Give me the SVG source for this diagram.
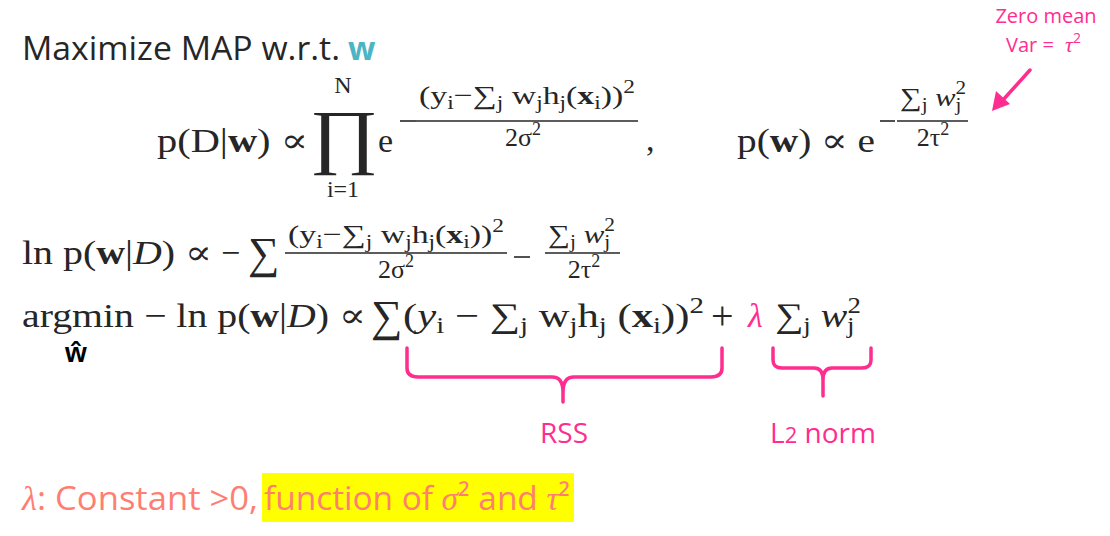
<svg xmlns="http://www.w3.org/2000/svg" width="1110" height="536" viewBox="0 0 1110 536">
<style>
.m{font-family:"Liberation Serif","DejaVu Serif",serif;fill:#262626}
.b{font-weight:bold}
.it{font-style:italic}
.sans{font-family:"Open Sans","Noto Sans","Liberation Sans",sans-serif}
.pk{fill:#ff2d8f}
.sal{fill:#ff7e72}
.bar{stroke:#262626;stroke-width:1.6}
.brace{fill:none;stroke:#ff2d8f;stroke-width:3.5;stroke-linecap:round;stroke-linejoin:round}
</style>
<rect width="1110" height="536" fill="#ffffff"/>

<g id="title">
<text class="sans" x="22" y="60" font-size="32" fill="#262626" textLength="318" lengthAdjust="spacingAndGlyphs">Maximize MAP w.r.t.</text>
<text class="sans b" x="348" y="60" font-size="32" fill="#4bb4c5">w</text>
</g>

<g id="annotation">
<text class="sans pk" x="1046" y="23" font-size="20" text-anchor="middle">Zero mean</text>
<text class="sans pk" x="1006" y="52" font-size="20">Var = <tspan class="m it pk" font-size="22" dx="6">τ</tspan><tspan class="pk" font-size="14" dy="-9">2</tspan></text>
</g>

<g id="connectors">
<line x1="1030" y1="70" x2="1003" y2="100" stroke="#ff2d8f" stroke-width="3.5" stroke-linecap="round"/>
<polygon points="992,111 996,91 1010,104" fill="#ff2d8f"/>
</g>

<g id="eq1">
<text class="m" x="157" y="152" font-size="34" textLength="151" lengthAdjust="spacingAndGlyphs">p(D|<tspan class="b">w</tspan>) ∝</text>
<text class="m" font-size="80" text-anchor="middle" transform="translate(344,160) scale(1.05,0.9)">∏</text>
<text class="m" x="343" y="93" font-size="24" text-anchor="middle">N</text>
<text class="m" x="343" y="197" font-size="24" text-anchor="middle">i=1</text>
<text class="m" x="378" y="152" font-size="34">e</text>
<line class="bar" x1="400" y1="121" x2="416" y2="121" stroke-width="2.5"/>
<text class="m" x="419" y="104" font-size="26" textLength="216" lengthAdjust="spacingAndGlyphs">(y<tspan dy="5" font-size="18">i</tspan><tspan dy="-5">−∑</tspan><tspan dy="5" font-size="18">j</tspan><tspan dy="-5"> w</tspan><tspan dy="5" font-size="18">j</tspan><tspan dy="-5">h</tspan><tspan dy="5" font-size="18">j</tspan><tspan dy="-5">(</tspan><tspan class="b">x</tspan><tspan dy="5" font-size="18">i</tspan><tspan dy="-5">))</tspan><tspan dy="-11" font-size="18">2</tspan></text>
<line class="bar" x1="416" y1="121" x2="638" y2="121"/>
<text class="m" x="523" y="146" font-size="26" text-anchor="middle">2σ<tspan dy="-11" font-size="18">2</tspan></text>
<text class="m" x="646" y="151" font-size="34">,</text>

<text class="m" x="737" y="152" font-size="34" textLength="138" lengthAdjust="spacingAndGlyphs">p(<tspan class="b">w</tspan>) ∝ e</text>
<line class="bar" x1="880" y1="121" x2="895" y2="121" stroke-width="2.5"/>
<text class="m" x="900" y="106" font-size="26" textLength="66" lengthAdjust="spacingAndGlyphs">∑<tspan dy="5" font-size="18">j</tspan><tspan dy="-5" class="it"> w</tspan><tspan dy="5" font-size="18">j</tspan><tspan dy="-17" dx="-5" font-size="18">2</tspan></text>
<line class="bar" x1="897" y1="121" x2="968" y2="121"/>
<text class="m" x="933" y="146" font-size="26" text-anchor="middle">2τ<tspan dy="-11" font-size="18">2</tspan></text>
</g>

<g id="eq2">
<text class="m" x="22" y="264" font-size="34" textLength="190" lengthAdjust="spacingAndGlyphs">ln p(<tspan class="b">w</tspan>|<tspan class="it">D</tspan>) ∝</text>
<text class="m" x="221" y="264" font-size="34">−</text>
<text class="m" x="248" y="268" font-size="44">∑</text>
<text class="m" x="288" y="243" font-size="26" textLength="216" lengthAdjust="spacingAndGlyphs">(y<tspan dy="5" font-size="18">i</tspan><tspan dy="-5">−∑</tspan><tspan dy="5" font-size="18">j</tspan><tspan dy="-5"> w</tspan><tspan dy="5" font-size="18">j</tspan><tspan dy="-5">h</tspan><tspan dy="5" font-size="18">j</tspan><tspan dy="-5">(</tspan><tspan class="b">x</tspan><tspan dy="5" font-size="18">i</tspan><tspan dy="-5">))</tspan><tspan dy="-11" font-size="18">2</tspan></text>
<line class="bar" x1="285" y1="253" x2="507" y2="253"/>
<text class="m" x="396" y="278" font-size="26" text-anchor="middle">2σ<tspan dy="-11" font-size="18">2</tspan></text>
<line class="bar" x1="514" y1="257" x2="530" y2="257" stroke-width="2.5"/>
<text class="m" x="548" y="243" font-size="26" textLength="67" lengthAdjust="spacingAndGlyphs">∑<tspan dy="5" font-size="18">j</tspan><tspan dy="-5" class="it"> w</tspan><tspan dy="5" font-size="18">j</tspan><tspan dy="-17" dx="-5" font-size="18">2</tspan></text>
<line class="bar" x1="545" y1="253" x2="620" y2="253"/>
<text class="m" x="584" y="278" font-size="26" text-anchor="middle">2τ<tspan dy="-11" font-size="18">2</tspan></text>
</g>

<g id="eq3">
<text class="m" x="22" y="327" font-size="34" textLength="344" lengthAdjust="spacingAndGlyphs">argmin − ln p(<tspan class="b">w</tspan>|<tspan class="it">D</tspan>) ∝</text>
<text class="m" x="371" y="331" font-size="44">∑</text>
<text class="m" x="403" y="327" font-size="34" textLength="301" lengthAdjust="spacingAndGlyphs">(<tspan class="it">y</tspan><tspan dy="6" font-size="23">i</tspan><tspan dy="-6"> − ∑</tspan><tspan dy="6" font-size="23">j</tspan><tspan dy="-6"> w</tspan><tspan dy="6" font-size="23">j</tspan><tspan dy="-6">h</tspan><tspan dy="6" font-size="23">j</tspan><tspan dy="-6"> (</tspan><tspan class="b">x</tspan><tspan dy="6" font-size="23">i</tspan><tspan dy="-6">))</tspan><tspan dy="-14" font-size="23">2</tspan></text>
<text class="m" x="711" y="329" font-size="40">+</text>
<text class="m it pk" x="748" y="327" font-size="34">λ</text>
<text class="m" x="775" y="327" font-size="34" textLength="86" lengthAdjust="spacingAndGlyphs">∑<tspan dy="6" font-size="23">j</tspan><tspan dy="-6" class="it"> w</tspan><tspan dy="6" font-size="23">j</tspan><tspan dy="-20" dx="-6" font-size="23">2</tspan></text>
<text x="65" y="362" font-size="28" font-family="Liberation Sans, Arial, sans-serif" font-weight="bold" fill="#000">ŵ</text>
</g>

<g id="braces">
<path class="brace" d="M407,348 L407,368 Q407,377 418,377 L552,377 Q563,377 563,392 L563,402 M563,392 Q563,377 574,377 L711,377 Q722,377 722,368 L722,348"/>
<path class="brace" d="M773,348 L773,360 Q773,368 782,368 L814,368 Q823,368 823,380 L823,396 M823,380 Q823,368 832,368 L862,368 Q871,368 871,360 L871,348"/>
</g>

<g id="labels">
<text class="sans pk" x="564" y="443" font-size="28" text-anchor="middle">RSS</text>
<text class="sans pk" x="823" y="443" font-size="28" text-anchor="middle">L<tspan font-size="22">2</tspan> norm</text>
</g>

<g id="note">
<rect x="262" y="473" width="312" height="49" fill="#ffff00"/>
<text class="sal" x="22" y="510" font-size="33" textLength="236" lengthAdjust="spacingAndGlyphs"><tspan class="m it sal">λ</tspan><tspan class="sans">: Constant &gt;0,</tspan></text>
<text class="sans sal" x="264" y="510" font-size="33" textLength="306" lengthAdjust="spacingAndGlyphs">function of <tspan class="m it sal">σ</tspan>² and <tspan class="m it sal">τ</tspan>²</text>
</g>
</svg>
